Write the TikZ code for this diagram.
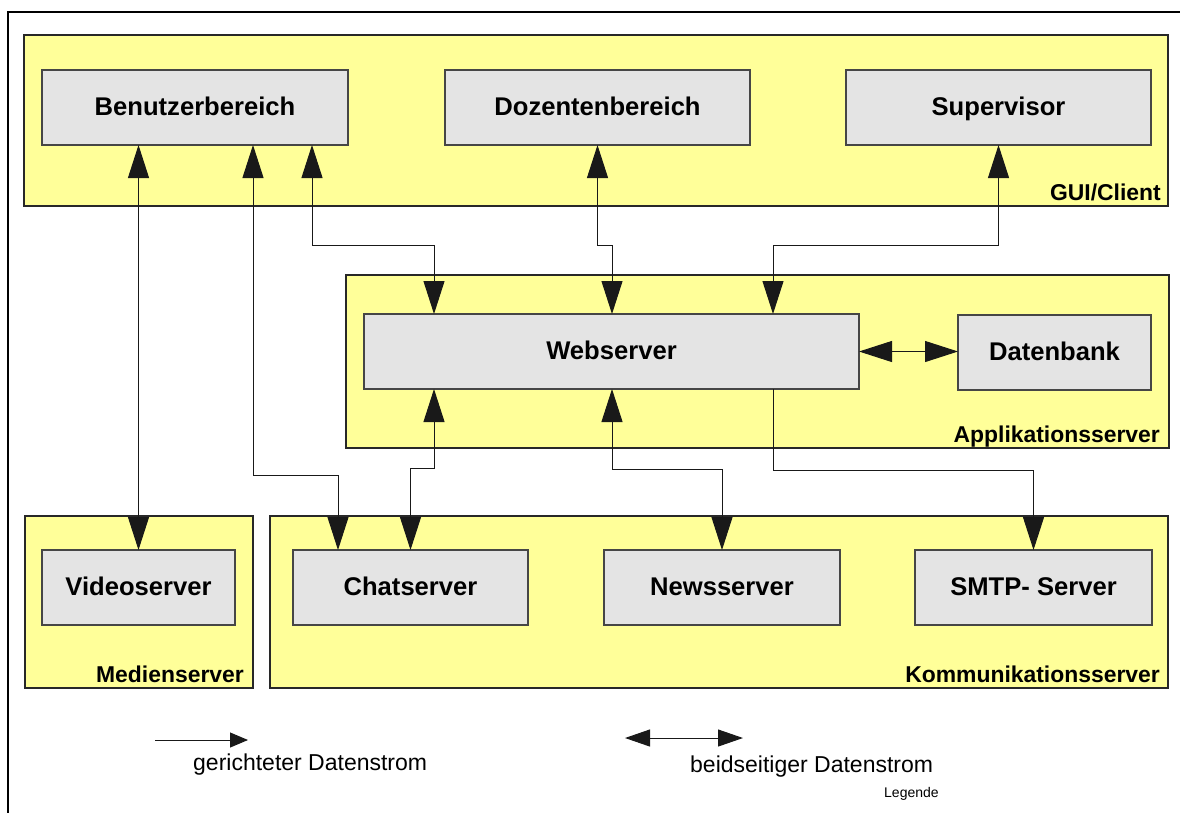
\documentclass[tikz,border=0pt]{standalone}
\usepackage{fontspec}
\setmainfont{Liberation Sans}
\usetikzlibrary{arrows.meta}
\definecolor{areayellow}{RGB}{255,255,153}
\definecolor{boxgray}{RGB}{228,228,228}
\definecolor{boxline}{RGB}{70,70,70}
\definecolor{arealine}{RGB}{40,40,40}
\begin{document}
\begin{tikzpicture}[x=1pt,y=-1pt,
  area/.style={rectangle,fill=areayellow,draw=arealine,line width=1.2pt,inner sep=0pt,outer sep=0pt},
  box/.style={rectangle,fill=boxgray,draw=boxline,line width=1.6pt,inner sep=0pt,outer sep=0pt,
    minimum height=75pt,text height=20pt,text depth=5pt,font=\fontsize{25.6}{30}\selectfont\bfseries},
  arealabel/.style={inner sep=0pt,anchor=base east,font=\fontsize{22.9}{27}\selectfont\bfseries},
  legtext/.style={inner sep=0pt,anchor=base west,font=\fontsize{23}{27}\selectfont},
  conn/.style={line width=1pt,draw=black!90},
  bi/.style={conn,{Triangle[length=33pt,width=21pt]}-{Triangle[length=33pt,width=21pt]}},
  uni/.style={conn,-{Triangle[length=33pt,width=21pt]}}]

\path[use as bounding box] (0,0) rectangle (1180,812);

% outer frame, running past the right and bottom page edges
\begin{scope}
  \clip (0,0) rectangle (1180,812);
  \draw[line width=2.5pt] (8,12) rectangle (1200,840);
\end{scope}

% layers
\node[area,minimum width=1144pt,minimum height=171pt] (gui) at (596,120.5) {};
\node[area,minimum width=823pt,minimum height=173pt] (app) at (757.5,361.5) {};
\node[area,minimum width=228pt,minimum height=172pt] (med) at (139,602) {};
\node[area,minimum width=898pt,minimum height=172pt] (kom) at (719,602) {};

\node[arealabel] (guil) at (1161,200) {GUI/Client};
\node[arealabel] (appl) at (1160,442) {Applikationsserver};
\node[arealabel] (medl) at (244,682) {Medienserver};
\node[arealabel] (koml) at (1160,682) {Kommunikationsserver};

% components
\node[box,minimum width=306pt] (ben) at (195,107.5) {Benutzerbereich};
\node[box,minimum width=305pt] (doz) at (597.5,107.5) {Dozentenbereich};
\node[box,minimum width=305pt] (sup) at (998.5,107.5) {Supervisor};
\node[box,minimum width=495pt] (web) at (611.5,351.5) {Webserver};
\node[box,minimum width=193pt] (dat) at (1054.5,352.5) {Datenbank};
\node[box,minimum width=193pt] (vid) at (138.5,587.5) {Videoserver};
\node[box,minimum width=235pt] (chat) at (410.5,587.5) {Chatserver};
\node[box,minimum width=236pt] (news) at (722,587.5) {Newsserver};
\node[box,minimum width=237pt] (smtp) at (1033.5,587.5) {SMTP- Server};

% bend points of the connectors
\coordinate (a1) at (312,245);  \coordinate (a2) at (434,245);
\coordinate (b1) at (597.5,245); \coordinate (b2) at (612,245);
\coordinate (c1) at (998.5,245); \coordinate (c2) at (773,245);
\coordinate (d1) at (138.5,0);
\coordinate (e1) at (253,475);  \coordinate (e2) at (338,475);
\coordinate (f1) at (434,468);  \coordinate (f2) at (410.5,468);
\coordinate (g1) at (612,469);  \coordinate (g2) at (722,469);
\coordinate (h1) at (773,470);  \coordinate (h2) at (1033.5,470);

% connectors
\draw[bi] (ben.south -| a1) |- (a2) -- (web.north -| a2);
\draw[bi] (doz.south -| b1) |- (b2) -- (web.north -| b2);
\draw[bi] (sup.south -| c1) |- (c2) -- (web.north -| c2);
\draw[bi] (ben.south -| d1) -- (vid.north -| d1);
\draw[bi] (ben.south -| e1) |- (e2) -- (chat.north -| e2);
\draw[bi] (web.south -| f1) |- (f2) -- (chat.north -| f2);
\draw[bi] (web.south -| g1) |- (g2) -- (news.north -| g2);
\draw[uni] (web.south -| h1) |- (h2) -- (smtp.north -| h2);
\draw[bi] (web.east) -- (web.east -| dat.west);

% legend
\coordinate (l1) at (155,740); \coordinate (l2) at (248,740);
\coordinate (l3) at (625,738); \coordinate (l4) at (743,738);
\draw[conn,-{Triangle[length=18pt,width=15pt]}] (l1) -- (l2);
\draw[conn,{Triangle[length=25pt,width=17pt]}-{Triangle[length=25pt,width=17pt]}] (l3) -- (l4);
\node[legtext] (lg1) at (193,770) {gerichteter Datenstrom};
\node[legtext] (lg2) at (690,772) {beidseitiger Datenstrom};
\node[inner sep=0pt,anchor=base west,font=\fontsize{14}{17}\selectfont] (lg3) at (884,797) {Legende};
\end{tikzpicture}
\end{document}
